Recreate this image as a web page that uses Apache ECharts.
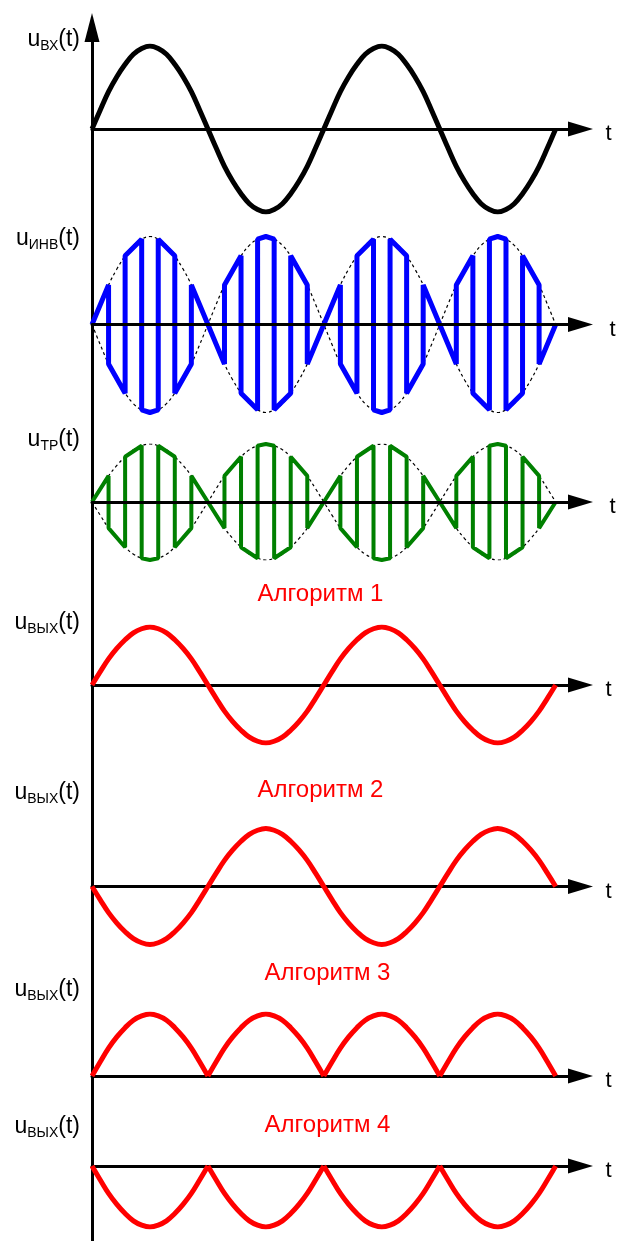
<!DOCTYPE html>
<html>
<head>
<meta charset="utf-8">
<title>Временные диаграммы</title>
<script src="https://cdn.jsdelivr.net/npm/echarts@6/dist/echarts.min.js"></script>
<style>
html, body { margin: 0; padding: 0; background: #fff; }
#chart { width: 620px; height: 1241px; }
</style>
</head>
<body>
<div id="chart"></div>
<script>
// Временные диаграммы: вход, инвертор, трансформатор, 4 алгоритма выхода
var chart = echarts.init(document.getElementById('chart'));

// время в шагах ключа: полупериод = 7 шагов, всего 28; отсчёты через 0.5 шага
var sineVals = [0, 0.23, 0.45, 0.63, 0.78, 0.9, 0.97, 1, 0.97, 0.9, 0.78, 0.63, 0.45, 0.23, 0,
  -0.23, -0.45, -0.63, -0.78, -0.9, -0.97, -1, -0.97, -0.9, -0.78, -0.63, -0.45, -0.23, 0,
  0.23, 0.45, 0.63, 0.78, 0.9, 0.97, 1, 0.97, 0.9, 0.78, 0.63, 0.45, 0.23, 0,
  -0.23, -0.45, -0.63, -0.78, -0.9, -0.97, -1, -0.97, -0.9, -0.78, -0.63, -0.45, -0.23, 0];

// выпрямленная синусоида (алгоритмы 3, 4)
var rectVals = [0, 0.23, 0.45, 0.63, 0.78, 0.9, 0.97, 1, 0.97, 0.9, 0.78, 0.63, 0.45, 0.23, 0,
  0.23, 0.45, 0.63, 0.78, 0.9, 0.97, 1, 0.97, 0.9, 0.78, 0.63, 0.45, 0.23, 0,
  0.23, 0.45, 0.63, 0.78, 0.9, 0.97, 1, 0.97, 0.9, 0.78, 0.63, 0.45, 0.23, 0,
  0.23, 0.45, 0.63, 0.78, 0.9, 0.97, 1, 0.97, 0.9, 0.78, 0.63, 0.45, 0.23, 0];

// напряжение инвертора [t, u]
var invPoints = [[0, 0], [1, 0.45], [1, -0.45], [2, -0.78], [2, 0.78], [3, 0.97], [3, -0.97], [3.5, -1], [4, -0.97],
  [4, 0.97], [5, 0.78], [5, -0.78], [6, -0.45], [6, 0.45], [7, 0], [8, -0.45], [8, 0.45], [9, 0.78],
  [9, -0.78], [10, -0.97], [10, 0.97], [10.5, 1], [11, 0.97], [11, -0.97], [12, -0.78], [12, 0.78],
  [13, 0.45], [13, -0.45], [14, 0], [15, 0.45], [15, -0.45], [16, -0.78], [16, 0.78], [17, 0.97],
  [17, -0.97], [17.5, -1], [18, -0.97], [18, 0.97], [19, 0.78], [19, -0.78], [20, -0.45], [20, 0.45],
  [21, 0], [22, -0.45], [22, 0.45], [23, 0.78], [23, -0.78], [24, -0.97], [24, 0.97], [24.5, 1],
  [25, 0.97], [25, -0.97], [26, -0.78], [26, 0.78], [27, 0.45], [27, -0.45], [28, 0]];

var subNames = ['ВХ', 'ИНВ', 'ТР', 'ВЫХ', 'ВЫХ', 'ВЫХ', 'ВЫХ'];
var algNames = ['Алгоритм 1', 'Алгоритм 2', 'Алгоритм 3', 'Алгоритм 4'];

var FONT = '"Liberation Sans", Arial, sans-serif';
var SMOOTH = 0.4;

// панели: ось t (px), амплитуда (px), подпись u(t) (px), отступ имени t
var panels = [
  {base: 129,   amp: 83, label: 40,   gap: 25},
  {base: 324.5, amp: 88, label: 239,  gap: 29},
  {base: 502,   amp: 58, label: 440,  gap: 29},
  {base: 685,   amp: 58, label: 623,  gap: 25},
  {base: 886.5, amp: 58, label: 793,  gap: 25},
  {base: 1076,  amp: 62, label: 990,  gap: 25},
  {base: 1166,  amp: 61, label: 1127, gap: 25}
];
var algPos = [[320.5, 594], [320.5, 790], [327.5, 973], [327.5, 1125]];

var grids = [], xAxes = [], yAxes = [], series = [], graphics = [];

function pairs(vals, from) {
  return vals.map(function (v, k) { return [from + k * 0.5, v]; });
}

function addLine(xi, yi, data, color, width, smooth, dash) {
  series.push({
    type: 'line', xAxisIndex: xi, yAxisIndex: yi, data: data,
    smooth: smooth, showSymbol: false, symbol: 'none', silent: true,
    lineStyle: {color: color, width: width, type: dash || 'solid'},
    z: dash ? 1 : 2
  });
}

function addInverse(gi) {
  yAxes.push({gridIndex: gi, type: 'value', min: -1, max: 1, inverse: true, show: false, position: 'right'});
  return yAxes.length - 1;
}

panels.forEach(function (p, i) {
  grids.push({left: 92, top: p.base - p.amp, width: 488.5, height: p.amp * 2, outerBoundsMode: 'none', containLabel: false});
  xAxes.push({
    gridIndex: i, type: 'value', min: 0, max: 29.5, z: (i == 1 || i == 2) ? 3 : 0,
    axisLine: {
      show: true, onZero: true,
      lineStyle: {color: '#000', width: 3},
      symbol: ['none', 'triangle'], symbolSize: [15, 25]
    },
    axisTick: {show: false}, axisLabel: {show: false}, splitLine: {show: false},
    name: 't', nameLocation: 'end', nameGap: p.gap,
    nameTextStyle: {color: '#000', fontSize: 22, fontFamily: FONT, verticalAlign: 'top', lineHeight: 10}
  });
  yAxes.push({gridIndex: i, type: 'value', min: -1, max: 1, show: false});

  graphics.push({
    type: 'text', x: 80, y: p.label, silent: true,
    style: {
      text: '{u|u}{s|' + subNames[i] + '}{u|(t)}',
      align: 'right', verticalAlign: 'middle',
      rich: {
        u: {fontSize: 23, fontFamily: FONT, fill: '#000', lineHeight: 26},
        s: {fontSize: 14, fontFamily: FONT, fill: '#000', lineHeight: 20, verticalAlign: 'bottom'}
      }
    }
  });
});

// вход
addLine(0, 0, pairs(sineVals, 0), '#000', 5, SMOOTH);

// инвертор и трансформатор с огибающей
var inv1 = addInverse(1), inv2 = addInverse(2);
addLine(1, 1, pairs(sineVals, 0), '#000', 1.2, SMOOTH, [3, 3]);
addLine(1, inv1, pairs(sineVals, 0), '#000', 1.2, SMOOTH, [3, 3]);
addLine(1, 1, invPoints, '#0000ff', 5, false);
addLine(2, 2, pairs(sineVals, 0), '#000', 1.2, SMOOTH, [3, 3]);
addLine(2, inv2, pairs(sineVals, 0), '#000', 1.2, SMOOTH, [3, 3]);
addLine(2, 2, invPoints, '#008000', 4, false);

// алгоритмы 1, 2
addLine(3, 3, pairs(sineVals, 0), '#ff0000', 5, SMOOTH);
addLine(4, addInverse(4), pairs(sineVals, 0), '#ff0000', 5, SMOOTH);

// алгоритмы 3, 4 - по полуволнам, чтобы сохранить изломы
var inv6 = addInverse(6);
for (var a = 0; a < 4; a++) {
  var arch = pairs(rectVals.slice(14 * a, 14 * a + 15), 7 * a);
  addLine(5, 5, arch, '#ff0000', 5, SMOOTH);
  addLine(6, inv6, arch, '#ff0000', 5, SMOOTH);
}

// общая вертикальная ось со стрелкой
grids.push({left: 92, top: 27.5, width: 10, bottom: 0, outerBoundsMode: 'none', containLabel: false});
xAxes.push({gridIndex: 7, type: 'value', show: false});
yAxes.push({
  gridIndex: 7, type: 'value', min: 0, max: 1, position: 'left', z: 0,
  axisLine: {show: true, lineStyle: {color: '#000', width: 3}, symbol: ['none', 'triangle'], symbolSize: [15, 29]},
  axisTick: {show: false}, axisLabel: {show: false}, splitLine: {show: false}
});

algNames.forEach(function (name, i) {
  graphics.push({
    type: 'text', x: algPos[i][0], y: algPos[i][1], silent: true,
    style: {text: name, align: 'center', verticalAlign: 'middle', fontSize: 24, fontFamily: FONT, fill: '#ff0000'}
  });
});

chart.setOption({
  animation: false,
  backgroundColor: '#fff',
  grid: grids,
  xAxis: xAxes,
  yAxis: yAxes,
  series: series,
  graphic: graphics
});
</script>
</body>
</html>
